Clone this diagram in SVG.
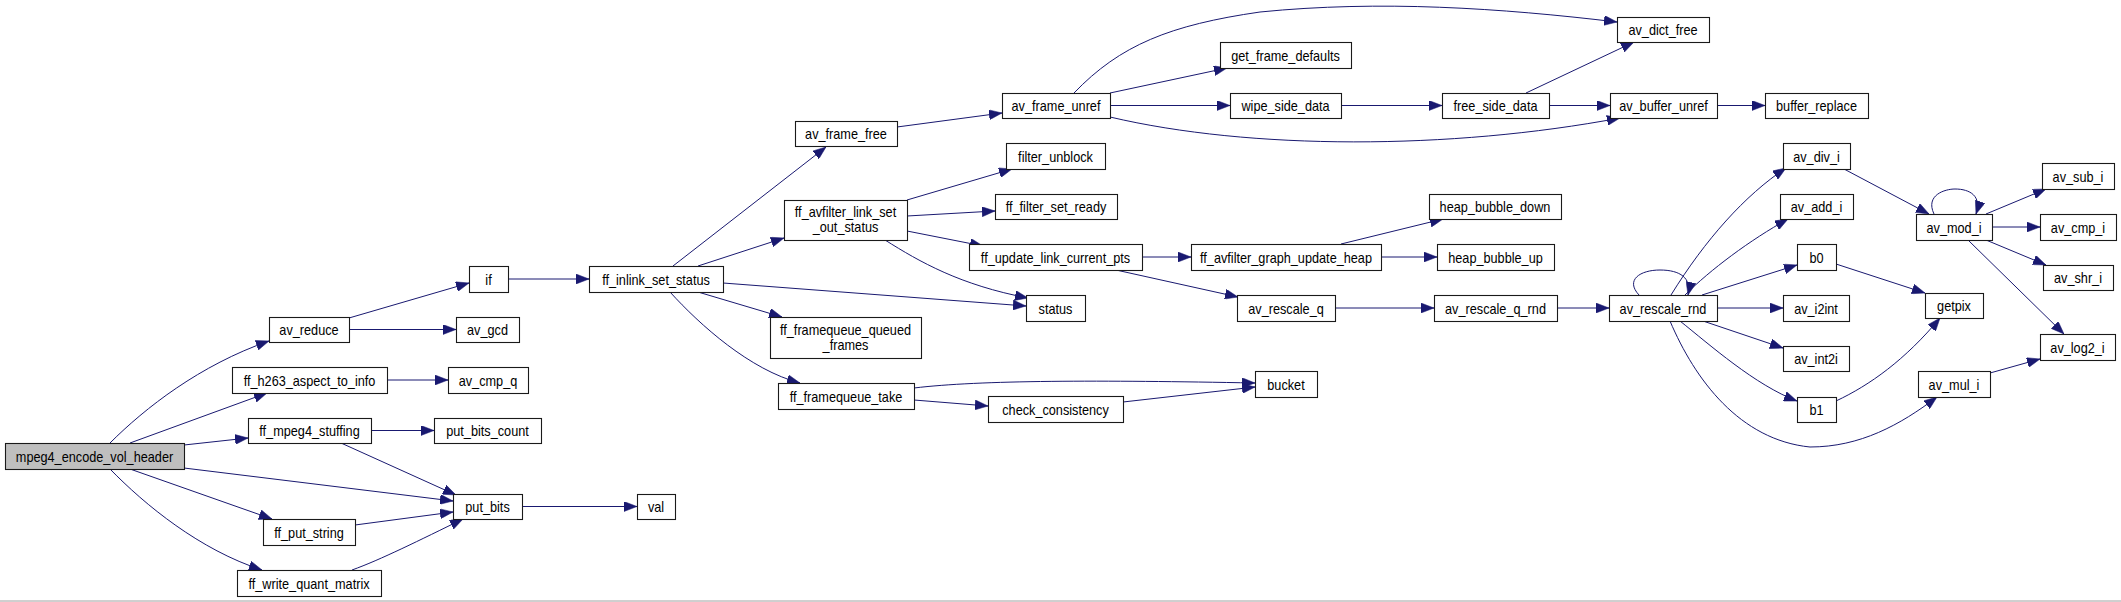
<svg xmlns="http://www.w3.org/2000/svg" width="2121" height="602" viewBox="0 0 2121 602">
<style>
.node rect{fill:#ffffff;stroke:#1a1a1a;stroke-width:1.1}
.node.root rect{fill:#bfbfbf}
.node text{font-family:"Liberation Sans",Arial,sans-serif;font-size:14.6px;fill:#000000;text-anchor:middle}
#edges path{fill:none;stroke:#191970;stroke-width:1;marker-end:url(#arrow)}
</style>
<defs>
<marker id="arrow" markerUnits="userSpaceOnUse" markerWidth="13" markerHeight="10" viewBox="0 0 13 10" refX="13" refY="5" orient="auto">
<path d="M0,0 L13,5 L0,10 z" fill="#191970" stroke="#191970" stroke-width="0.5"/>
</marker>
</defs>
<rect x="0" y="0" width="2121" height="602" fill="#ffffff"/>
<line x1="0" y1="601" x2="2121" y2="601" stroke="#a0a0a0" stroke-width="1"/>
<g id="edges">
<path d="M110,443 C145,408 200,365 269,341"/>
<path d="M130,443 L267,393"/>
<path d="M184,445 L248,438"/>
<path d="M184,468 L453,501"/>
<path d="M130,469 L272,519"/>
<path d="M110,469 C145,505 200,550 262,570"/>
<path d="M349,318 L469,283"/>
<path d="M349,329.5 L456,329.5"/>
<path d="M387,380 L448,380"/>
<path d="M371,430.5 L434,430.5"/>
<path d="M341,443 L456,495"/>
<path d="M355,525 L453,512"/>
<path d="M352,570 C380,560 420,540 463,519"/>
<path d="M522,506.5 L637,506.5"/>
<path d="M508,279 L589,279"/>
<path d="M673,266 L826,147"/>
<path d="M698,266 L784,238"/>
<path d="M723,283 L1026,306"/>
<path d="M698,292 L782,317"/>
<path d="M670,292 C700,325 750,370 800,383"/>
<path d="M897,127 L1002,113"/>
<path d="M907,200 L1012,169"/>
<path d="M907,216 L995,211"/>
<path d="M907,231 L983,246"/>
<path d="M885,240 C920,262 960,285 1028,298"/>
<path d="M1110,93 L1227,68"/>
<path d="M1110,105.5 L1230,105.5"/>
<path d="M1074,93 C1120,45 1170,25 1260,12 C1380,0 1500,8 1617,22"/>
<path d="M1110,117 C1250,150 1450,150 1620,118"/>
<path d="M1341,105.5 L1442,105.5"/>
<path d="M1526,93 L1634,42"/>
<path d="M1549,105.5 L1610,105.5"/>
<path d="M1717,105.5 L1765,105.5"/>
<path d="M1142,257 L1191,257"/>
<path d="M1116,270 L1238,297"/>
<path d="M1341,244 L1443,219"/>
<path d="M1381,257 L1437,257"/>
<path d="M1335,308 L1434,308"/>
<path d="M1557,308 L1609,308"/>
<path d="M914,388 C980,380 1100,380 1255,383"/>
<path d="M914,400 L988,406"/>
<path d="M1123,402 L1255,387"/>
<path d="M1639,295 C1625,280 1640,270 1660,270 C1680,270 1692,278 1688,295"/>
<path d="M1671,295 C1705,240 1745,195 1786,168"/>
<path d="M1685,295 C1710,270 1750,240 1788,219"/>
<path d="M1702,295 L1797,265"/>
<path d="M1717,308 L1783,308"/>
<path d="M1703,321 L1783,348"/>
<path d="M1680,321 C1710,345 1755,385 1797,401"/>
<path d="M1670,321 C1695,380 1740,440 1810,447 C1860,447 1900,425 1937,397"/>
<path d="M1844,169 L1929,214"/>
<path d="M1934,214 C1925,195 1945,189 1955,189 C1970,189 1982,196 1976,214"/>
<path d="M1986,214 L2046,189"/>
<path d="M1992,227 L2040,227"/>
<path d="M1986,240 L2046,265"/>
<path d="M1968,240 L2064,334"/>
<path d="M1836,264 L1925,293"/>
<path d="M1836,401 C1870,385 1905,360 1940,318"/>
<path d="M1990,373 L2040,359"/>
</g>
<g id="node-mpeg4_encode_vol_header" class="node root"><rect x="5.5" y="443.5" width="179" height="26"/><text transform="translate(94.5,461.5) scale(0.87,1)">mpeg4_encode_vol_header</text></g>
<g id="node-av_reduce" class="node"><rect x="269.5" y="317.5" width="80" height="25"/><text transform="translate(309,335) scale(0.87,1)">av_reduce</text></g>
<g id="node-ff_h263_aspect_to_info" class="node"><rect x="232.5" y="367.5" width="155" height="26"/><text transform="translate(309.5,385.5) scale(0.87,1)">ff_h263_aspect_to_info</text></g>
<g id="node-ff_mpeg4_stuffing" class="node"><rect x="248.5" y="418.5" width="123" height="25"/><text transform="translate(309.5,436) scale(0.87,1)">ff_mpeg4_stuffing</text></g>
<g id="node-ff_put_string" class="node"><rect x="263.5" y="519.5" width="92" height="26"/><text transform="translate(309,537.5) scale(0.87,1)">ff_put_string</text></g>
<g id="node-ff_write_quant_matrix" class="node"><rect x="237.5" y="570.5" width="144" height="26"/><text transform="translate(309,588.5) scale(0.87,1)">ff_write_quant_matrix</text></g>
<g id="node-put_bits" class="node"><rect x="453.5" y="494.5" width="69" height="25"/><text transform="translate(487.5,512) scale(0.87,1)">put_bits</text></g>
<g id="node-if" class="node"><rect x="469.5" y="266.5" width="39" height="26"/><text transform="translate(488.5,284.5) scale(0.87,1)">if</text></g>
<g id="node-av_gcd" class="node"><rect x="456.5" y="317.5" width="63" height="25"/><text transform="translate(487.5,335) scale(0.87,1)">av_gcd</text></g>
<g id="node-av_cmp_q" class="node"><rect x="448.5" y="367.5" width="80" height="26"/><text transform="translate(488,385.5) scale(0.87,1)">av_cmp_q</text></g>
<g id="node-put_bits_count" class="node"><rect x="434.5" y="418.5" width="107" height="25"/><text transform="translate(487.5,436) scale(0.87,1)">put_bits_count</text></g>
<g id="node-val" class="node"><rect x="637.5" y="494.5" width="38" height="25"/><text transform="translate(656,512) scale(0.87,1)">val</text></g>
<g id="node-ff_inlink_set_status" class="node"><rect x="589.5" y="266.5" width="134" height="26"/><text transform="translate(656,284.5) scale(0.87,1)">ff_inlink_set_status</text></g>
<g id="node-av_frame_free" class="node"><rect x="795.5" y="121.5" width="102" height="25"/><text transform="translate(846,139) scale(0.87,1)">av_frame_free</text></g>
<g id="node-ff_avfilter_link_set_out_status" class="node"><rect x="784.5" y="200.5" width="123" height="40"/><text transform="translate(845.5,217) scale(0.87,1)">ff_avfilter_link_set</text><text transform="translate(845.5,232) scale(0.87,1)">_out_status</text></g>
<g id="node-status" class="node"><rect x="1026.5" y="295.5" width="59" height="26"/><text transform="translate(1055.5,313.5) scale(0.87,1)">status</text></g>
<g id="node-ff_framequeue_queued_frames" class="node"><rect x="770.5" y="317.5" width="151" height="41"/><text transform="translate(845.5,335) scale(0.87,1)">ff_framequeue_queued</text><text transform="translate(845.5,349.5) scale(0.87,1)">_frames</text></g>
<g id="node-ff_framequeue_take" class="node"><rect x="778.5" y="383.5" width="136" height="26"/><text transform="translate(846,401.5) scale(0.87,1)">ff_framequeue_take</text></g>
<g id="node-av_frame_unref" class="node"><rect x="1002.5" y="93.5" width="108" height="25"/><text transform="translate(1056,111) scale(0.87,1)">av_frame_unref</text></g>
<g id="node-filter_unblock" class="node"><rect x="1006.5" y="143.5" width="99" height="26"/><text transform="translate(1055.5,161.5) scale(0.87,1)">filter_unblock</text></g>
<g id="node-ff_filter_set_ready" class="node"><rect x="995.5" y="194.5" width="122" height="25"/><text transform="translate(1056,212) scale(0.87,1)">ff_filter_set_ready</text></g>
<g id="node-ff_update_link_current_pts" class="node"><rect x="969.5" y="244.5" width="173" height="26"/><text transform="translate(1055.5,262.5) scale(0.87,1)">ff_update_link_current_pts</text></g>
<g id="node-check_consistency" class="node"><rect x="988.5" y="396.5" width="135" height="26"/><text transform="translate(1055.5,414.5) scale(0.87,1)">check_consistency</text></g>
<g id="node-get_frame_defaults" class="node"><rect x="1220.5" y="42.5" width="131" height="26"/><text transform="translate(1285.5,60.5) scale(0.87,1)">get_frame_defaults</text></g>
<g id="node-wipe_side_data" class="node"><rect x="1230.5" y="93.5" width="111" height="25"/><text transform="translate(1285.5,111) scale(0.87,1)">wipe_side_data</text></g>
<g id="node-ff_avfilter_graph_update_heap" class="node"><rect x="1191.5" y="244.5" width="190" height="26"/><text transform="translate(1286,262.5) scale(0.87,1)">ff_avfilter_graph_update_heap</text></g>
<g id="node-av_rescale_q" class="node"><rect x="1237.5" y="295.5" width="98" height="26"/><text transform="translate(1286,313.5) scale(0.87,1)">av_rescale_q</text></g>
<g id="node-bucket" class="node"><rect x="1255.5" y="371.5" width="62" height="26"/><text transform="translate(1286,389.5) scale(0.87,1)">bucket</text></g>
<g id="node-free_side_data" class="node"><rect x="1442.5" y="93.5" width="107" height="25"/><text transform="translate(1495.5,111) scale(0.87,1)">free_side_data</text></g>
<g id="node-heap_bubble_down" class="node"><rect x="1429.5" y="194.5" width="132" height="25"/><text transform="translate(1495,212) scale(0.87,1)">heap_bubble_down</text></g>
<g id="node-heap_bubble_up" class="node"><rect x="1437.5" y="244.5" width="117" height="26"/><text transform="translate(1495.5,262.5) scale(0.87,1)">heap_bubble_up</text></g>
<g id="node-av_rescale_q_rnd" class="node"><rect x="1434.5" y="295.5" width="123" height="26"/><text transform="translate(1495.5,313.5) scale(0.87,1)">av_rescale_q_rnd</text></g>
<g id="node-av_dict_free" class="node"><rect x="1617.5" y="17.5" width="92" height="25"/><text transform="translate(1663,35) scale(0.87,1)">av_dict_free</text></g>
<g id="node-av_buffer_unref" class="node"><rect x="1610.5" y="93.5" width="107" height="25"/><text transform="translate(1663.5,111) scale(0.87,1)">av_buffer_unref</text></g>
<g id="node-buffer_replace" class="node"><rect x="1765.5" y="93.5" width="103" height="25"/><text transform="translate(1816.5,111) scale(0.87,1)">buffer_replace</text></g>
<g id="node-av_rescale_rnd" class="node"><rect x="1609.5" y="295.5" width="108" height="26"/><text transform="translate(1663,313.5) scale(0.87,1)">av_rescale_rnd</text></g>
<g id="node-av_div_i" class="node"><rect x="1783.5" y="143.5" width="67" height="26"/><text transform="translate(1816.5,161.5) scale(0.87,1)">av_div_i</text></g>
<g id="node-av_add_i" class="node"><rect x="1780.5" y="194.5" width="73" height="25"/><text transform="translate(1816.5,212) scale(0.87,1)">av_add_i</text></g>
<g id="node-b0" class="node"><rect x="1797.5" y="244.5" width="39" height="26"/><text transform="translate(1816.5,262.5) scale(0.87,1)">b0</text></g>
<g id="node-av_i2int" class="node"><rect x="1783.5" y="295.5" width="66" height="26"/><text transform="translate(1816,313.5) scale(0.87,1)">av_i2int</text></g>
<g id="node-av_int2i" class="node"><rect x="1783.5" y="346.5" width="66" height="25"/><text transform="translate(1816,364) scale(0.87,1)">av_int2i</text></g>
<g id="node-b1" class="node"><rect x="1797.5" y="397.5" width="39" height="25"/><text transform="translate(1816.5,415) scale(0.87,1)">b1</text></g>
<g id="node-av_mod_i" class="node"><rect x="1916.5" y="214.5" width="76" height="26"/><text transform="translate(1954,232.5) scale(0.87,1)">av_mod_i</text></g>
<g id="node-getpix" class="node"><rect x="1925.5" y="293.5" width="58" height="25"/><text transform="translate(1954,311) scale(0.87,1)">getpix</text></g>
<g id="node-av_mul_i" class="node"><rect x="1918.5" y="371.5" width="72" height="26"/><text transform="translate(1954,389.5) scale(0.87,1)">av_mul_i</text></g>
<g id="node-av_sub_i" class="node"><rect x="2042.5" y="163.5" width="72" height="26"/><text transform="translate(2078,181.5) scale(0.87,1)">av_sub_i</text></g>
<g id="node-av_cmp_i" class="node"><rect x="2040.5" y="214.5" width="76" height="26"/><text transform="translate(2078,232.5) scale(0.87,1)">av_cmp_i</text></g>
<g id="node-av_shr_i" class="node"><rect x="2043.5" y="265.5" width="70" height="25"/><text transform="translate(2078,283) scale(0.87,1)">av_shr_i</text></g>
<g id="node-av_log2_i" class="node"><rect x="2040.5" y="334.5" width="75" height="26"/><text transform="translate(2077.5,352.5) scale(0.87,1)">av_log2_i</text></g>
</svg>
